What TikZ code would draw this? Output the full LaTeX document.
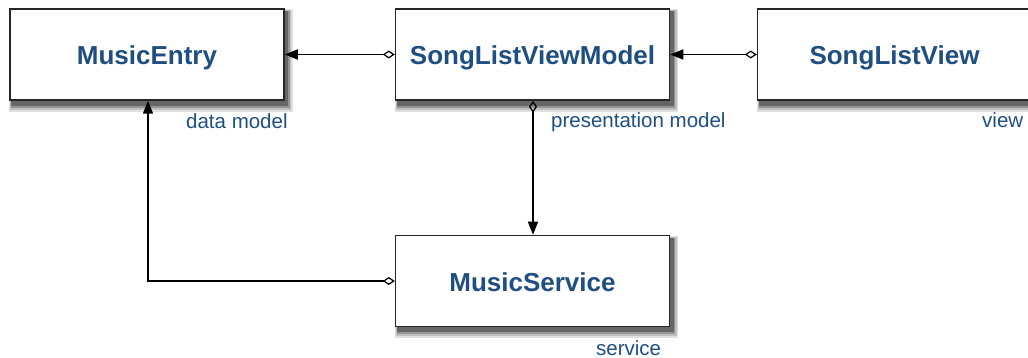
\documentclass[tikz,border=0pt]{standalone}
\usepackage{fontspec}
\setmainfont{Liberation Sans}
\usetikzlibrary{arrows.meta,backgrounds}
\definecolor{txtblue}{HTML}{1F4F82}
\tikzset{
  cls/.style={draw=black!85, line width=1.5pt, fill=white, minimum width=274pt, minimum height=91pt,
    inner sep=0pt, text height=26pt, text depth=5pt, text=txtblue, font=\fontsize{26}{30}\selectfont\bfseries},
  lbl/.style={anchor=base west, inner sep=0pt, text=txtblue, font=\fontsize{20.5}{24}\selectfont},
  conn/.style={line width=1.5pt, draw=black,
    {Diamond[open, length=12pt, width=8pt, line width=1.2pt]}-{Triangle[length=13pt, width=10pt]}}
}
\begin{document}
\begin{tikzpicture}[x=1pt,y=-1pt]
\useasboundingbox (0,0) rectangle (1028,358);
\node[cls] (me) at (147,54.5) {MusicEntry};
\node[cls] (slvm) at (532.5,54.5) {SongListViewModel};
\node[cls] (slv) at (894.5,54.5) {SongListView};
\node[cls] (ms) at (532.5,281) {MusicService};
\begin{pgfonlayer}{background}
\foreach \n in {me,slvm,slv,ms}{
  \fill[black!12] ([shift={(0,1)}]\n.north west) rectangle ([shift={(8,11)}]\n.south east);
  \fill[black!25] ([shift={(1,2)}]\n.north west) rectangle ([shift={(6.5,9)}]\n.south east);
  \fill[black!42] ([shift={(2,3)}]\n.north west) rectangle ([shift={(5,7)}]\n.south east);
  \fill[black!60] ([shift={(2,3)}]\n.north west) rectangle ([shift={(3.5,5)}]\n.south east);
}
\end{pgfonlayer}
\node[lbl] (lme) at (186,129) {data model};
\node[lbl] (lslvm) at (551,128) {presentation model};
\node[lbl] (lslv) at (982,128) {view};
\node[lbl] (lms) at (596,355) {service};
\draw[conn] (slvm.west) -- (me.east);
\draw[conn] (slv.west) -- (slvm.east);
\draw[conn] ([xshift=0.5pt]slvm.south) -- ([xshift=0.5pt]ms.north);
\coordinate (corner) at (148,281);
\draw[conn] (ms.west) -- (corner) -- (me.south -| corner);
\end{tikzpicture}
\end{document}
